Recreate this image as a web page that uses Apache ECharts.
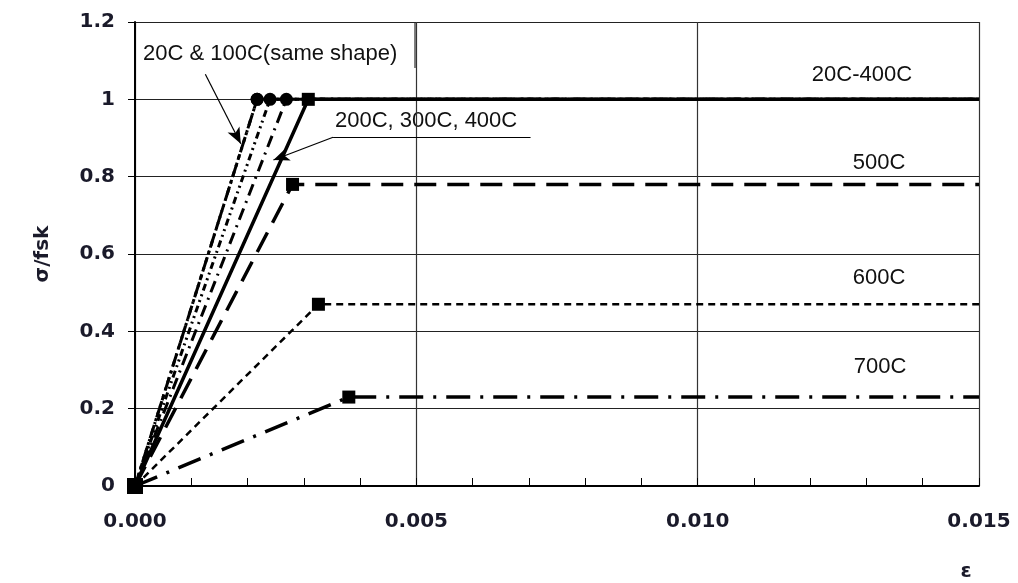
<!DOCTYPE html>
<html>
<head>
<meta charset="utf-8">
<script src="https://cdn.jsdelivr.net/npm/echarts@6/dist/echarts.min.js"></script>
<style>
html,body{margin:0;padding:0;background:#fff;}
#chart{width:1018px;height:583px;}
</style>
</head>
<body>
<div id="chart"></div>
<script>
// ---- data (strain, sigma/fsk) ----
const xTickLabels = ['0.000', '0.005', '0.010', '0.015'];
const yTickLabels = ['0', '0.2', '0.4', '0.6', '0.8', '1', '1.2'];
const curve20C  = [[0, 0], [0.00217, 1.0], [0.015, 1.0]];
const curve100C = [[0, 0], [0.00217, 1.0], [0.015, 1.0]];
const curve200C = [[0, 0], [0.00240, 1.0], [0.015, 1.0]];
const curve300C = [[0, 0], [0.00269, 1.0], [0.015, 1.0]];
const curve400C = [[0, 0], [0.00308, 1.0], [0.015, 1.0]];
const curve500C = [[0, 0], [0.00280, 0.78], [0.015, 0.78]];
const curve600C = [[0, 0], [0.00326, 0.47], [0.015, 0.47]];
const curve700C = [[0, 0], [0.00380, 0.23], [0.015, 0.23]];
// annotation arrows (data coords): [from, to]
const arrow20C  = [[0.00125, 1.065], [0.00188, 0.885]];
const arrow200C = [[0.00352, 0.902], [0.00246, 0.843]];
const underline200C = [[0.00352, 0.902], [0.00703, 0.902]];

const chart = echarts.init(document.getElementById('chart'));

function mk(name, data, peakSymbol, dash, width) {
  return {
    name: name,
    type: 'line',
    data: data,
    symbol: function (v, p) {
      if (p.dataIndex === 0) return 'rect';
      if (p.dataIndex === 1) return peakSymbol;
      return 'none';
    },
    symbolSize: function (v, p) { return p.dataIndex === 0 ? 16 : 13; },
    itemStyle: { color: '#000' },
    lineStyle: { color: '#000', width: width, type: dash },
    showSymbol: true,
    animation: false,
    z: 3
  };
}

const series = [
  mk('20C', curve20C, 'circle', [14, 4, 3, 4], 3),
  mk('100C', curve100C, 'circle', [6, 5, 2, 5], 3),
  mk('200C', curve200C, 'circle', [7, 4, 2, 4, 2, 4], 3),
  mk('300C', curve300C, 'circle', [12, 6, 2, 6], 3),
  mk('400C', curve400C, 'rect', 'solid', 3.5),
  mk('500C', curve500C, 'rect', [22, 11], 3.5),
  mk('600C', curve600C, 'rect', [7, 5], 2.5),
  mk('700C', curve700C, 'rect', [24, 10, 3, 10], 3.5)
];

// annotation arrows via markLine on an empty helper series
series.push({
  type: 'line',
  data: [],
  silent: true,
  animation: false,
  markLine: {
    silent: true,
    animation: false,
    symbol: ['none', 'arrow'],
    symbolSize: [10, 16],
    label: { show: false },
    lineStyle: { color: '#000', width: 1.2, type: 'solid' },
    data: [
      [{ coord: arrow20C[0] }, { coord: arrow20C[1] }],
      [{ coord: arrow200C[0] }, { coord: arrow200C[1] }],
      [{ coord: underline200C[0], symbol: 'none' }, { coord: underline200C[1], symbol: 'none' }]
    ]
  }
});

const annFont = 'Liberation Sans';
chart.setOption({
  backgroundColor: '#fff',
  animation: false,
  grid: { left: 135, right: 39, top: 22, bottom: 97, containLabel: false },
  xAxis: {
    type: 'value',
    min: 0, max: 0.015, interval: 0.005,
    axisLine: { show: true, lineStyle: { color: '#000', width: 2 } },
    axisTick: { show: true, inside: true, length: 8, lineStyle: { color: '#000' } },
    minorTick: { show: true, splitNumber: 5, length: 8, lineStyle: { color: '#000', width: 1 } },
    splitLine: { show: true, lineStyle: { color: '#333', width: 1.2 } },
    axisLabel: {
      margin: 26,
      color: '#1a1a2a',
      fontFamily: 'DejaVu Sans', fontWeight: 'bold', fontSize: 20,
      formatter: function (v) { return xTickLabels[Math.round(v / 0.005)]; }
    }
  },
  yAxis: {
    type: 'value',
    min: 0, max: 1.2, interval: 0.2,
    name: 'σ/fsk',
    nameLocation: 'middle',
    nameGap: 82,
    nameRotate: 90,
    nameTextStyle: { color: '#1a1a2a', fontFamily: 'DejaVu Sans', fontWeight: 'bold', fontSize: 20 },
    axisLine: { show: true, lineStyle: { color: '#000', width: 2 } },
    axisTick: { show: true, inside: false, length: 7, lineStyle: { color: '#000' } },
    splitLine: { show: true, lineStyle: { color: '#222', width: 1.2 } },
    axisLabel: {
      margin: 20,
      color: '#1a1a2a',
      fontFamily: 'DejaVu Sans', fontWeight: 'bold', fontSize: 20,
      formatter: function (v) { return yTickLabels[Math.round(v / 0.2)]; }
    }
  },
  graphic: [
    { type: 'text', left: 143, top: 43, style: { text: '20C & 100C(same shape)', font: '22px "' + annFont + '"', fill: '#111' } },
    { type: 'line', shape: { x1: 415, y1: 22, x2: 415, y2: 68 }, style: { stroke: '#000', lineWidth: 1 } },
    { type: 'text', left: 335, top: 110, style: { text: '200C, 300C, 400C', font: '22px "' + annFont + '"', fill: '#111' } },
    { type: 'text', x: 862, y: 75, style: { text: '20C-400C', font: '22px "' + annFont + '"', fill: '#111', align: 'center', verticalAlign: 'middle' } },
    { type: 'text', x: 879, y: 163, style: { text: '500C', font: '22px "' + annFont + '"', fill: '#111', align: 'center', verticalAlign: 'middle' } },
    { type: 'text', x: 879, y: 278, style: { text: '600C', font: '22px "' + annFont + '"', fill: '#111', align: 'center', verticalAlign: 'middle' } },
    { type: 'text', x: 880, y: 367, style: { text: '700C', font: '22px "' + annFont + '"', fill: '#111', align: 'center', verticalAlign: 'middle' } },
    { type: 'text', x: 966, y: 572, style: { text: 'ε', font: 'bold 20px "DejaVu Sans"', fill: '#1a1a2a', align: 'center', verticalAlign: 'middle' } }
  ],
  series: series
});
</script>
</body>
</html>
